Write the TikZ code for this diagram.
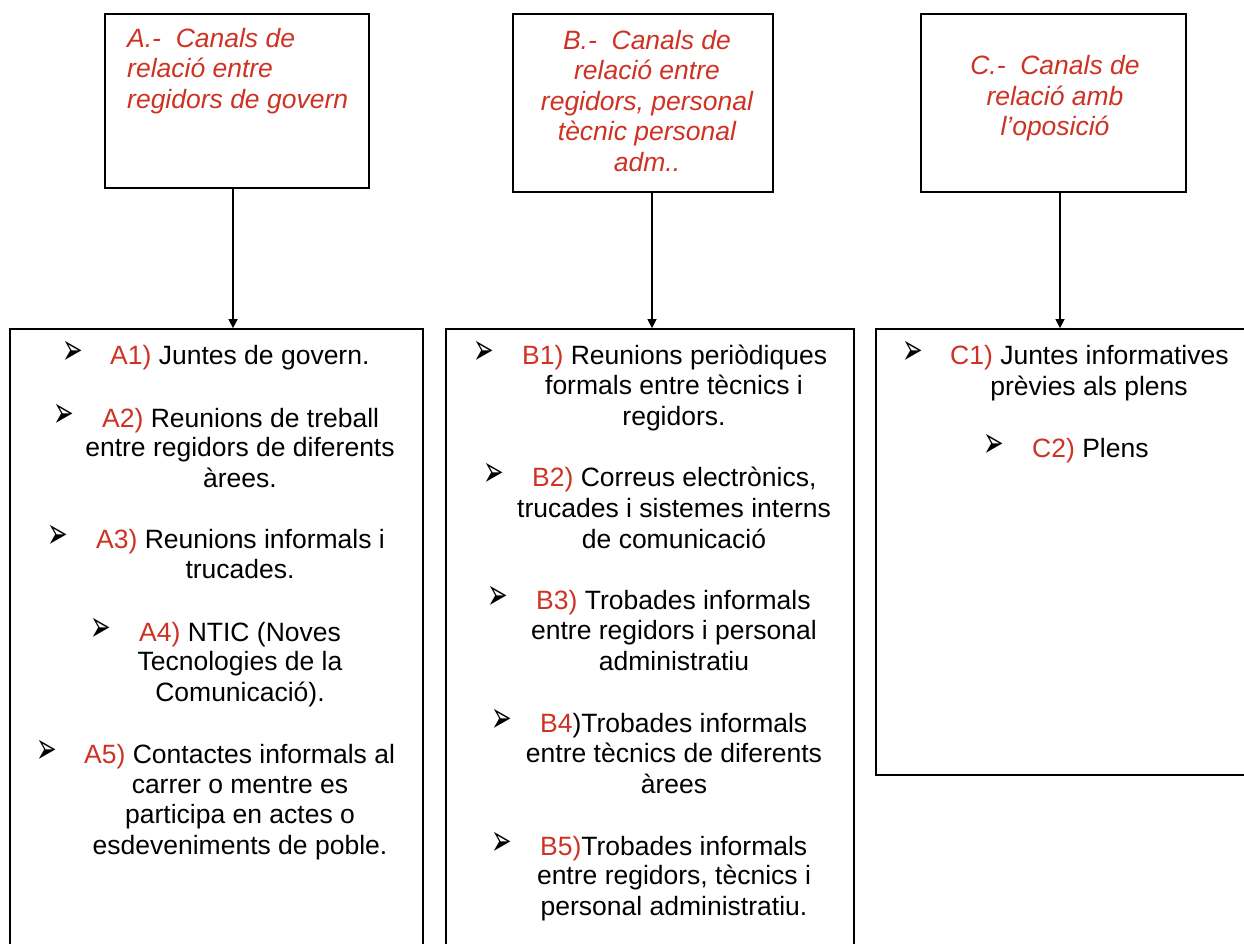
\documentclass[tikz,border=0pt]{standalone}
\usepackage{graphicx}
\usepackage{fontspec}
\setmainfont{Liberation Sans}
\newfontfamily\bulfont{DejaVu Sans}
\usetikzlibrary{arrows.meta}
\definecolor{labred}{RGB}{205,50,35}
\tikzset{
  frame/.style={draw=black, line width=1.7pt, inner sep=0pt},
  headtxt/.style={inner sep=0pt, text=labred, font=\fontsize{26.5}{30.5}\selectfont\itshape},
  bodytxt/.style={inner sep=0pt, font=\fontsize{26.5}{30.5}\selectfont},
  bullet/.style={inner sep=0pt, font=\bulfont\fontsize{29}{29}\selectfont},
  link/.style={line width=1.3pt, -{Triangle[length=9pt,width=9pt]}},
}
\newcommand\lbl[1]{\textcolor{labred}{#1}}
\newcommand\bulglyph{\scalebox{0.85}[1.5]{➢}}
% \entry{name}{bullet x}{text x}{baseline y}{red label}{rest of first line}
\newcommand\entry[6]{%
  \node[bullet] (#1b) at (#2,#4-11) {\bulglyph};
  \node[bodytxt, anchor=base west] (#1) at (#3,#4) {\lbl{#5}#6};
}
% multi-line nodes below are placed by the baseline of their last line
\begin{document}
\begin{tikzpicture}[x=1pt,y=-1pt]
\useasboundingbox (0,0) rectangle (1244,944);
\clip (0,0) rectangle (1244,944);

% upper boxes
\node[frame, minimum width=264pt, minimum height=174pt] (ta) at (237,101) {};
\node[frame, minimum width=260pt, minimum height=178pt] (tb) at (643,103) {};
\node[frame, minimum width=265pt, minimum height=178pt] (tc) at (1053.5,103) {};

\node[headtxt, align=left, anchor=base west] (ha) at (127,108.5)
  {A.-\ \ Canals de\\relació entre\\regidors de govern};
\node[headtxt, align=center, anchor=base] (hb) at (647,171.5)
  {B.-\ \ Canals de\\relació entre\\regidors, personal\\tècnic personal\\adm..};
\node[headtxt, align=center, anchor=base] (hc) at (1055,136)
  {C.-\ \ Canals de\\relació amb\\l’oposició};

% lower boxes
\node[frame, minimum width=413pt, minimum height=631pt] (ba) at (216.5,644.5) {};
\node[frame, minimum width=408pt, minimum height=631pt] (bb) at (650,644.5) {};
\node[frame, minimum width=380pt, minimum height=446pt] (bc) at (1066,552) {};

% connectors
\coordinate (xa) at (233,0);
\coordinate (xb) at (652,0);
\coordinate (xc) at (1060,0);
\draw[link] (ta.south -| xa) -- (ba.north -| xa);
\draw[link] (tb.south -| xb) -- (bb.north -| xb);
\draw[link] (tc.south -| xc) -- (bc.north -| xc);

% column A
\entry{a1}{72.5}{110}{364}{A1)}{ Juntes de govern.}
\entry{a2}{63.5}{102}{427}{A2)}{ Reunions de treball}
\node[bodytxt, align=center, anchor=base] (a2r) at (240,487)
  {entre regidors de diferents\\àrees.};
\entry{a3}{57.5}{96}{548}{A3)}{ Reunions informals i}
\node[bodytxt, align=center, anchor=base] (a3r) at (240,578) {trucades.};
\entry{a4}{100.5}{139}{641}{A4)}{ NTIC (Noves}
\node[bodytxt, align=center, anchor=base] (a4r) at (240,701)
  {Tecnologies de la\\Comunicació).};
\entry{a5}{46.5}{84}{763}{A5)}{ Contactes informals al}
\node[bodytxt, align=center, anchor=base] (a5r) at (240,854)
  {carrer o mentre es\\participa en actes o\\esdeveniments de poble.};

% column B
\entry{b1}{483.5}{522}{364}{B1)}{ Reunions periòdiques}
\node[bodytxt, align=center, anchor=base] (b1r) at (674,425)
  {formals entre tècnics i\\regidors.};
\entry{b2}{493.5}{532}{486}{B2)}{ Correus electrònics,}
\node[bodytxt, align=center, anchor=base] (b2r) at (674,548)
  {trucades i sistemes interns\\de comunicació};
\entry{b3}{497.5}{536}{609}{B3)}{ Trobades informals}
\node[bodytxt, align=center, anchor=base] (b3r) at (674,670)
  {entre regidors i personal\\administratiu};
\entry{b4}{501.5}{540}{732}{B4}{)Trobades informals}
\node[bodytxt, align=center, anchor=base] (b4r) at (674,793)
  {entre tècnics de diferents\\àrees};
\entry{b5}{501.5}{540}{855}{B5)}{Trobades informals}
\node[bodytxt, align=center, anchor=base] (b5r) at (674,915)
  {entre regidors, tècnics i\\personal administratiu.};

% column C
\entry{c1}{912.5}{950}{364}{C1)}{ Juntes informatives}
\node[bodytxt, align=center, anchor=base] (c1r) at (1089,395) {prèvies als plens};
\entry{c2}{993.5}{1032}{457}{C2)}{ Plens}
\end{tikzpicture}
\end{document}
